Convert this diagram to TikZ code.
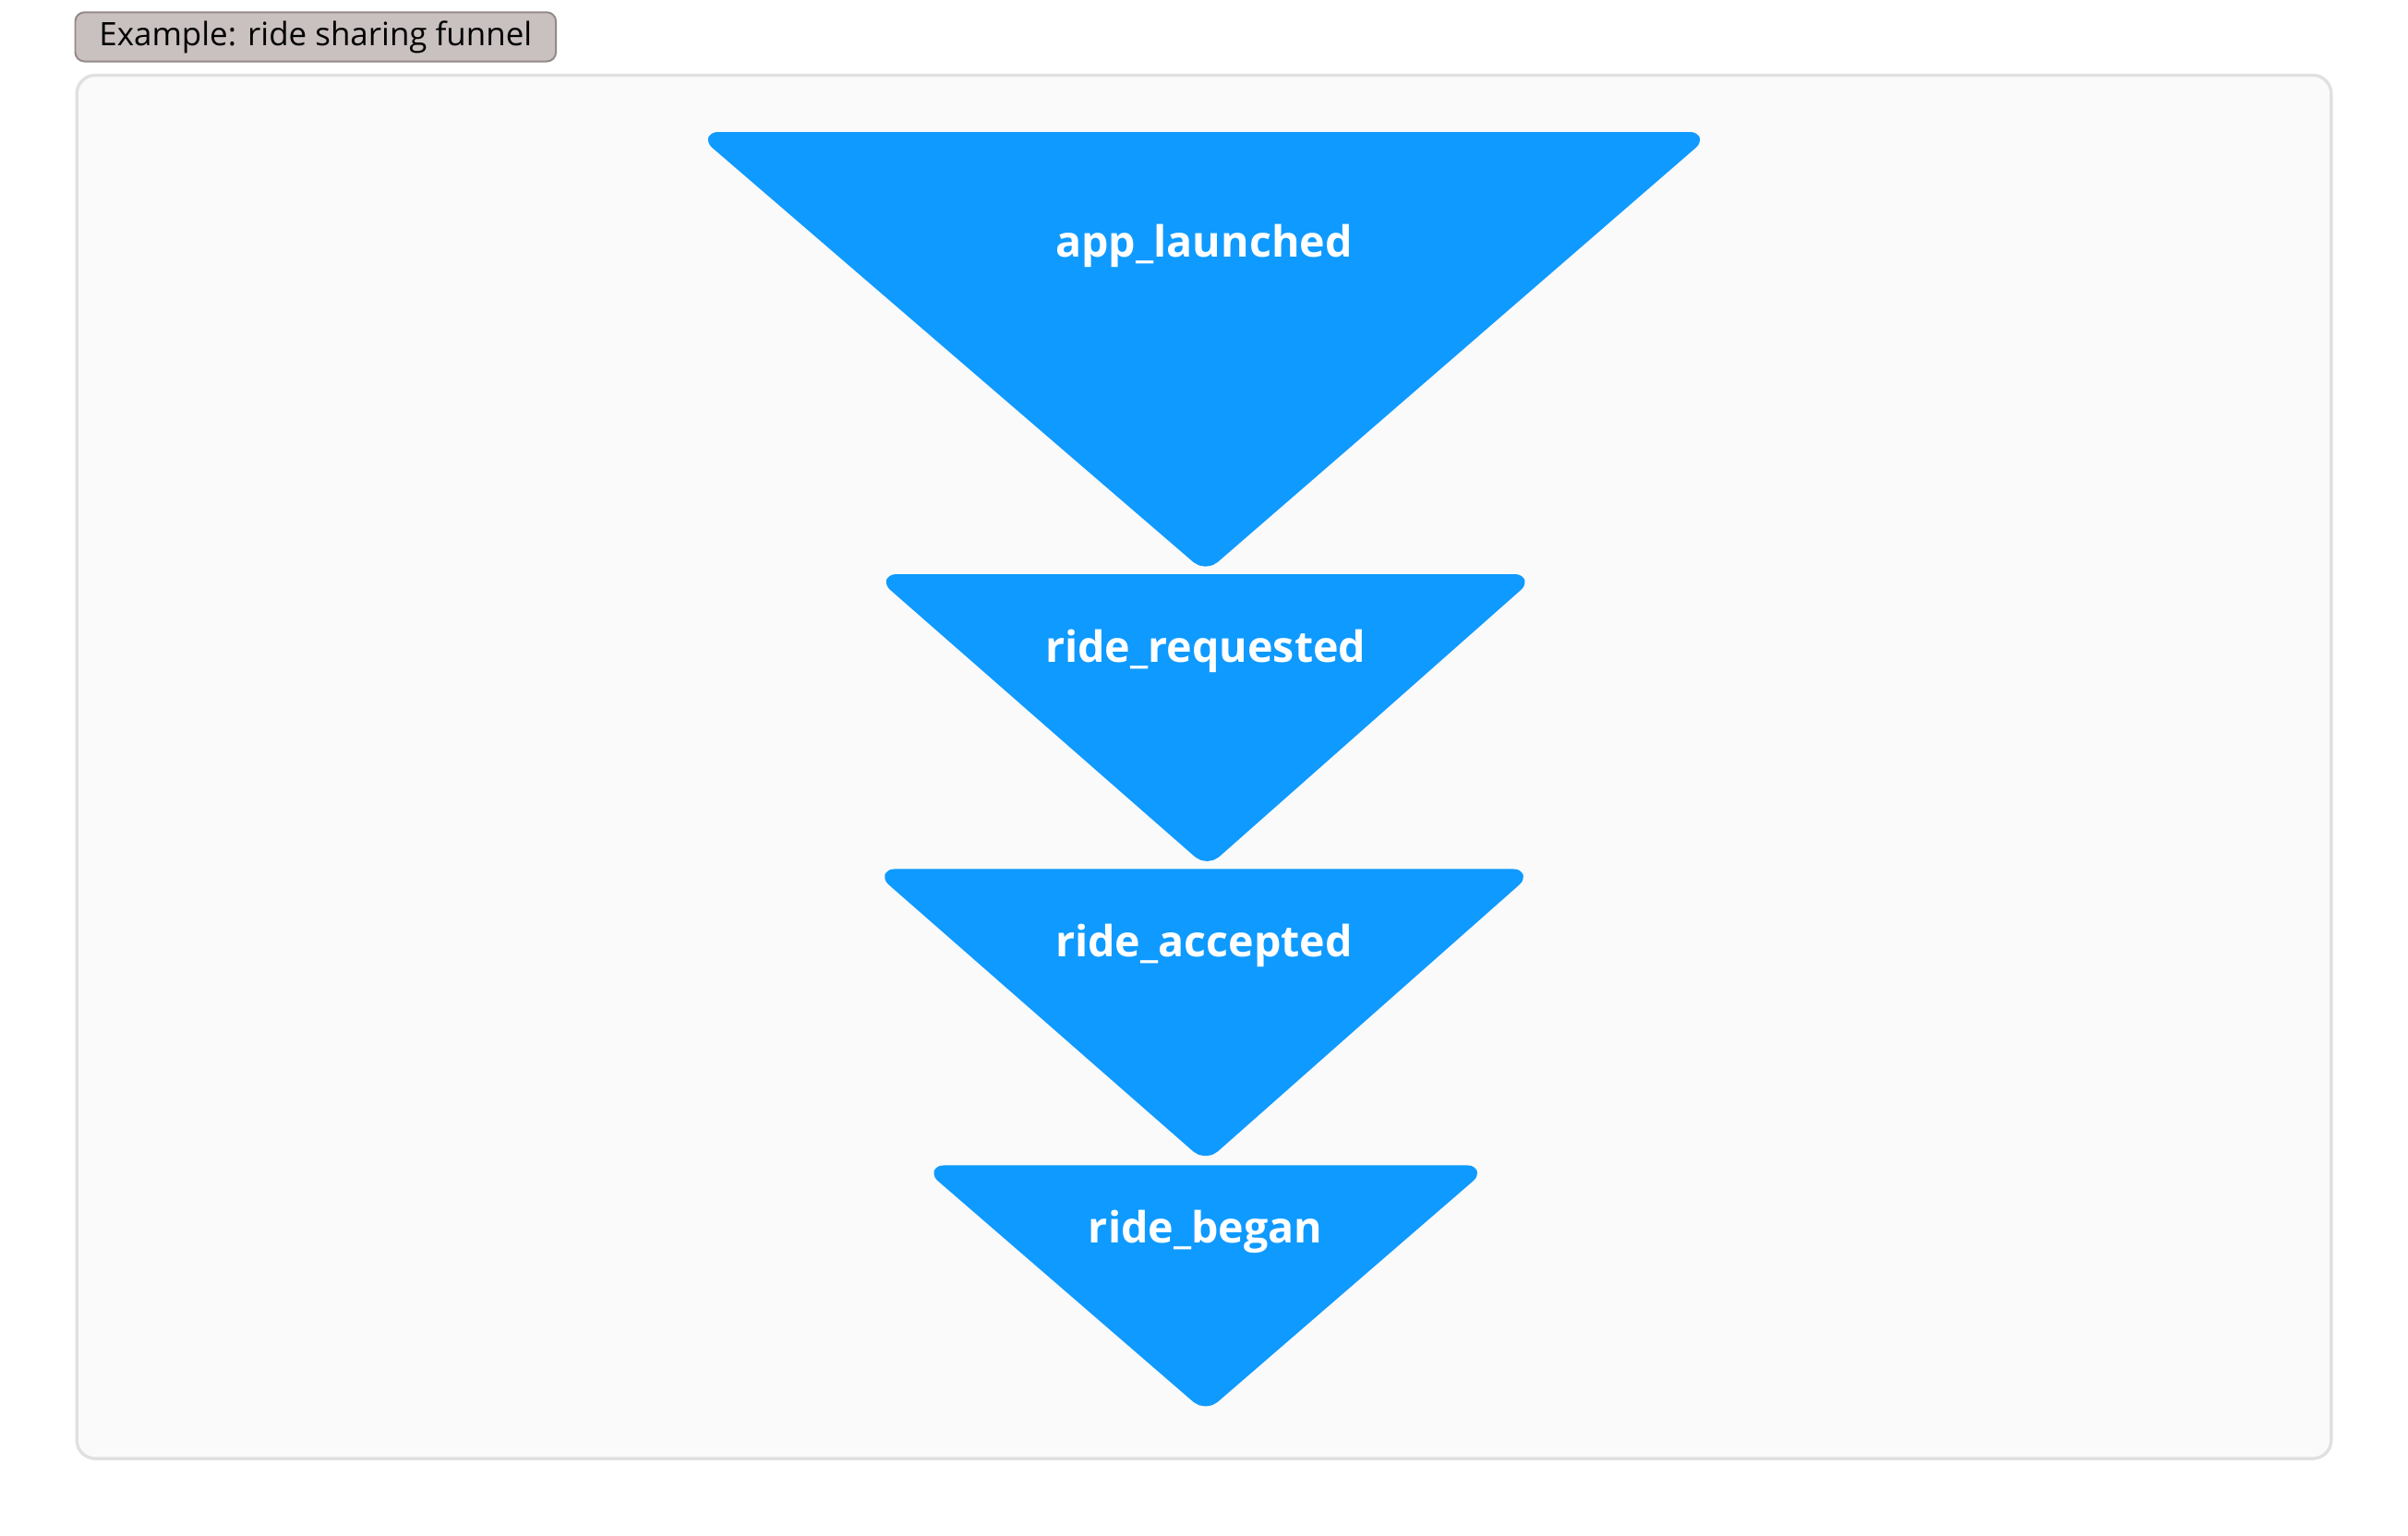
\documentclass[tikz,border=0pt]{standalone}
\usepackage{fontspec}
\setmainfont{Open Sans}
\definecolor{funnel}{HTML}{0F9AFF}
\definecolor{panelbg}{HTML}{FAFAFA}
\definecolor{panelln}{HTML}{E0E0E0}
\definecolor{tagbg}{HTML}{C9C0C0}
\definecolor{tagln}{HTML}{958A8A}
\begin{document}
\begin{tikzpicture}[x=0.5pt,y=-0.5pt,
  tri/.style={fill=funnel,draw=funnel,line width=3pt,rounded corners=4pt,line join=round},
  lab/.style={text=white,font=\fontsize{14}{16}\selectfont\bfseries,anchor=center}]
\useasboundingbox (0,0) rectangle (1568,1000);
\fill[white] (0,0) rectangle (1568,1000);
\draw[fill=panelbg,draw=panelln,line width=1pt,rounded corners=6pt] (50,49) rectangle (1518,950);
\node[draw=tagln,fill=tagbg,rounded corners=3pt,line width=0.6pt,minimum width=156.5pt,minimum height=16pt,inner sep=0pt,font=\fontsize{10.5}{12}\selectfont] (tag) at (205.5,24) {Example: ride sharing funnel};
\draw[tri] (460,89) -- (1108,89) -- (785,369) -- cycle;
\draw[tri] (576,377) -- (994,377) -- (786,561) -- cycle;
\draw[tri] (575,569) -- (993,569) -- (785,753) -- cycle;
\draw[tri] (607,762) -- (963,762) -- (785,916) -- cycle;
\node[lab] (a) at (784,160) {app\_launched};
\node[lab] (b) at (785,424) {ride\_requested};
\node[lab] (c) at (784,616) {ride\_accepted};
\node[lab] (d) at (785,802) {ride\_began};
\end{tikzpicture}
\end{document}
